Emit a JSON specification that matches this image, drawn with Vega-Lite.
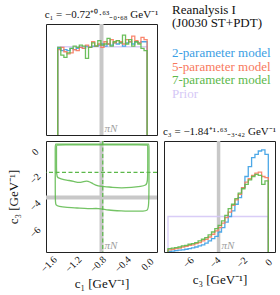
{
"$schema":"https://vega.github.io/schema/vega-lite/v6.json",
"background":"white",
"padding":{"left":6,"top":4,"right":2,"bottom":2},
"columns":2,
"spacing":{"row":6,"column":7},
"bounds":"flush",
"datasets":{
"c1h":[
{"i":-1,"lo":-1.45,"hi":-1.45,"m2":0,"m5":0,"m7":0,"pr":0},
{"i":0,"lo":-1.45,"hi":-1.40,"m2":0.78,"m5":0.77,"m7":0.79,"pr":0.795},
{"i":1,"lo":-1.40,"hi":-1.35,"m2":0.76,"m5":0.79,"m7":0.72,"pr":0.795},
{"i":2,"lo":-1.35,"hi":-1.30,"m2":0.77,"m5":0.75,"m7":0.70,"pr":0.795},
{"i":3,"lo":-1.30,"hi":-1.25,"m2":0.76,"m5":0.73,"m7":0.74,"pr":0.795},
{"i":4,"lo":-1.25,"hi":-1.20,"m2":0.78,"m5":0.74,"m7":0.78,"pr":0.795},
{"i":5,"lo":-1.20,"hi":-1.15,"m2":0.77,"m5":0.77,"m7":0.80,"pr":0.795},
{"i":6,"lo":-1.15,"hi":-1.10,"m2":0.78,"m5":0.76,"m7":0.79,"pr":0.795},
{"i":7,"lo":-1.10,"hi":-1.05,"m2":0.79,"m5":0.79,"m7":0.81,"pr":0.795},
{"i":8,"lo":-1.05,"hi":-1.00,"m2":0.78,"m5":0.78,"m7":0.80,"pr":0.795},
{"i":9,"lo":-1.00,"hi":-0.95,"m2":0.80,"m5":0.81,"m7":0.69,"pr":0.795},
{"i":10,"lo":-0.95,"hi":-0.90,"m2":0.79,"m5":0.79,"m7":0.79,"pr":0.795},
{"i":11,"lo":-0.90,"hi":-0.85,"m2":0.80,"m5":0.84,"m7":0.83,"pr":0.795},
{"i":12,"lo":-0.85,"hi":-0.80,"m2":0.80,"m5":0.80,"m7":0.80,"pr":0.795},
{"i":13,"lo":-0.80,"hi":-0.75,"m2":0.81,"m5":0.82,"m7":0.85,"pr":0.795},
{"i":14,"lo":-0.75,"hi":-0.70,"m2":0.82,"m5":0.79,"m7":0.81,"pr":0.795},
{"i":15,"lo":-0.70,"hi":-0.65,"m2":0.80,"m5":0.84,"m7":0.82,"pr":0.795},
{"i":16,"lo":-0.65,"hi":-0.60,"m2":0.82,"m5":0.82,"m7":0.87,"pr":0.795},
{"i":17,"lo":-0.60,"hi":-0.55,"m2":0.81,"m5":0.86,"m7":0.80,"pr":0.795},
{"i":18,"lo":-0.55,"hi":-0.50,"m2":0.83,"m5":0.83,"m7":0.84,"pr":0.795},
{"i":19,"lo":-0.50,"hi":-0.45,"m2":0.82,"m5":0.85,"m7":0.85,"pr":0.795},
{"i":20,"lo":-0.45,"hi":-0.40,"m2":0.83,"m5":0.84,"m7":0.83,"pr":0.795},
{"i":21,"lo":-0.40,"hi":-0.35,"m2":0.80,"m5":0.82,"m7":0.90,"pr":0.795},
{"i":22,"lo":-0.35,"hi":-0.30,"m2":0.83,"m5":0.86,"m7":0.82,"pr":0.795},
{"i":23,"lo":-0.30,"hi":-0.25,"m2":0.84,"m5":0.84,"m7":0.86,"pr":0.795},
{"i":24,"lo":-0.25,"hi":-0.20,"m2":0.82,"m5":0.89,"m7":0.80,"pr":0.795},
{"i":25,"lo":-0.20,"hi":-0.15,"m2":0.84,"m5":0.85,"m7":0.84,"pr":0.795},
{"i":26,"lo":-0.15,"hi":-0.10,"m2":0.83,"m5":0.83,"m7":0.82,"pr":0.795},
{"i":27,"lo":-0.10,"hi":-0.05,"m2":0.84,"m5":0.88,"m7":0.78,"pr":0.795},
{"i":28,"lo":-0.05,"hi":0.00,"m2":0.84,"m5":0.86,"m7":0.76,"pr":0.795},
{"i":29,"lo":0,"hi":0,"m2":0,"m5":0,"m7":0,"pr":0}
],
"c3h":[
{"i":-1,"lo":-7.5,"hi":-7.5,"m2":0,"m5":0,"m7":0,"pr":0},
{"i":0,"lo":-7.5,"hi":-7.25,"m2":0.005,"m5":0.02,"m7":0.03,"pr":0.32},
{"i":1,"lo":-7.25,"hi":-7.0,"m2":0.008,"m5":0.025,"m7":0.035,"pr":0.32},
{"i":2,"lo":-7.0,"hi":-6.75,"m2":0.012,"m5":0.03,"m7":0.04,"pr":0.32},
{"i":3,"lo":-6.75,"hi":-6.5,"m2":0.016,"m5":0.035,"m7":0.045,"pr":0.32},
{"i":4,"lo":-6.5,"hi":-6.25,"m2":0.02,"m5":0.045,"m7":0.055,"pr":0.32},
{"i":5,"lo":-6.25,"hi":-6.0,"m2":0.025,"m5":0.05,"m7":0.06,"pr":0.32},
{"i":6,"lo":-6.0,"hi":-5.75,"m2":0.03,"m5":0.06,"m7":0.07,"pr":0.32},
{"i":7,"lo":-5.75,"hi":-5.5,"m2":0.038,"m5":0.065,"m7":0.075,"pr":0.32},
{"i":8,"lo":-5.5,"hi":-5.25,"m2":0.045,"m5":0.075,"m7":0.085,"pr":0.32},
{"i":9,"lo":-5.25,"hi":-5.0,"m2":0.055,"m5":0.085,"m7":0.10,"pr":0.32},
{"i":10,"lo":-5.0,"hi":-4.75,"m2":0.065,"m5":0.10,"m7":0.115,"pr":0.32},
{"i":11,"lo":-4.75,"hi":-4.5,"m2":0.08,"m5":0.115,"m7":0.13,"pr":0.32},
{"i":12,"lo":-4.5,"hi":-4.25,"m2":0.10,"m5":0.135,"m7":0.155,"pr":0.32},
{"i":13,"lo":-4.25,"hi":-4.0,"m2":0.12,"m5":0.16,"m7":0.18,"pr":0.32},
{"i":14,"lo":-4.0,"hi":-3.75,"m2":0.14,"m5":0.19,"m7":0.21,"pr":0.32},
{"i":15,"lo":-3.75,"hi":-3.5,"m2":0.18,"m5":0.22,"m7":0.24,"pr":0.32},
{"i":16,"lo":-3.5,"hi":-3.25,"m2":0.22,"m5":0.26,"m7":0.28,"pr":0.32},
{"i":17,"lo":-3.25,"hi":-3.0,"m2":0.27,"m5":0.31,"m7":0.33,"pr":0.32},
{"i":18,"lo":-3.0,"hi":-2.75,"m2":0.32,"m5":0.36,"m7":0.39,"pr":0.32},
{"i":19,"lo":-2.75,"hi":-2.5,"m2":0.37,"m5":0.42,"m7":0.43,"pr":0.32},
{"i":20,"lo":-2.5,"hi":-2.25,"m2":0.43,"m5":0.47,"m7":0.48,"pr":0.32},
{"i":21,"lo":-2.25,"hi":-2.0,"m2":0.49,"m5":0.52,"m7":0.53,"pr":0.32},
{"i":22,"lo":-2.0,"hi":-1.75,"m2":0.58,"m5":0.58,"m7":0.57,"pr":0.32},
{"i":23,"lo":-1.75,"hi":-1.5,"m2":0.68,"m5":0.63,"m7":0.61,"pr":0.32},
{"i":24,"lo":-1.5,"hi":-1.25,"m2":0.77,"m5":0.66,"m7":0.65,"pr":0.32},
{"i":25,"lo":-1.25,"hi":-1.0,"m2":0.85,"m5":0.69,"m7":0.68,"pr":0.32},
{"i":26,"lo":-1.0,"hi":-0.75,"m2":0.88,"m5":0.71,"m7":0.70,"pr":0.32},
{"i":27,"lo":-0.75,"hi":-0.5,"m2":0.91,"m5":0.72,"m7":0.69,"pr":0.32},
{"i":28,"lo":-0.5,"hi":-0.25,"m2":0.92,"m5":0.68,"m7":0.61,"pr":0.32},
{"i":29,"lo":-0.25,"hi":0,"m2":0.88,"m5":0.67,"m7":0.64,"pr":0.32},
{"i":30,"lo":0,"hi":0,"m2":0,"m5":0,"m7":0,"pr":0}
],
"cont":[
{"lv":"a","k":0,"c1":-1.47,"c3":0.21},
{"lv":"a","k":1,"c1":-1.42,"c3":0.21},
{"lv":"a","k":2,"c1":-0.80,"c3":0.21},
{"lv":"a","k":3,"c1":-0.03,"c3":0.21},
{"lv":"a","k":4,"c1":0.01,"c3":0.21},
{"lv":"a","k":5,"c1":0.01,"c3":0.15},
{"lv":"a","k":6,"c1":0.01,"c3":-1.2},
{"lv":"a","k":7,"c1":0.01,"c3":-2.6},
{"lv":"a","k":8,"c1":-0.02,"c3":-2.82},
{"lv":"a","k":9,"c1":-0.095,"c3":-2.89},
{"lv":"a","k":10,"c1":-0.25,"c3":-2.98},
{"lv":"a","k":11,"c1":-0.42,"c3":-3.02},
{"lv":"a","k":12,"c1":-0.56,"c3":-2.98},
{"lv":"a","k":13,"c1":-0.697,"c3":-2.89},
{"lv":"a","k":14,"c1":-0.795,"c3":-2.89},
{"lv":"a","k":15,"c1":-0.88,"c3":-2.70},
{"lv":"a","k":16,"c1":-0.957,"c3":-2.47},
{"lv":"a","k":17,"c1":-1.03,"c3":-2.52},
{"lv":"a","k":18,"c1":-1.103,"c3":-2.64},
{"lv":"a","k":19,"c1":-1.185,"c3":-2.51},
{"lv":"a","k":20,"c1":-1.315,"c3":-2.42},
{"lv":"a","k":21,"c1":-1.40,"c3":-2.32},
{"lv":"a","k":22,"c1":-1.45,"c3":-2.25},
{"lv":"a","k":23,"c1":-1.47,"c3":-2.1},
{"lv":"a","k":24,"c1":-1.47,"c3":-1.0},
{"lv":"a","k":25,"c1":-1.47,"c3":0.15},
{"lv":"b","k":0,"c1":-1.49,"c3":0.27},
{"lv":"b","k":1,"c1":-1.44,"c3":0.27},
{"lv":"b","k":2,"c1":-0.80,"c3":0.27},
{"lv":"b","k":3,"c1":-0.02,"c3":0.27},
{"lv":"b","k":4,"c1":0.03,"c3":0.27},
{"lv":"b","k":5,"c1":0.03,"c3":0.2},
{"lv":"b","k":6,"c1":0.03,"c3":-2.0},
{"lv":"b","k":7,"c1":0.03,"c3":-4.5},
{"lv":"b","k":8,"c1":0.0,"c3":-4.7},
{"lv":"b","k":9,"c1":-0.05,"c3":-4.74},
{"lv":"b","k":10,"c1":-0.21,"c3":-4.76},
{"lv":"b","k":11,"c1":-0.42,"c3":-4.72},
{"lv":"b","k":12,"c1":-0.63,"c3":-4.68},
{"lv":"b","k":13,"c1":-0.795,"c3":-4.51},
{"lv":"b","k":14,"c1":-0.957,"c3":-4.59},
{"lv":"b","k":15,"c1":-1.14,"c3":-4.50},
{"lv":"b","k":16,"c1":-1.30,"c3":-4.47},
{"lv":"b","k":17,"c1":-1.44,"c3":-4.40},
{"lv":"b","k":18,"c1":-1.48,"c3":-4.3},
{"lv":"b","k":19,"c1":-1.49,"c3":-4.1},
{"lv":"b","k":20,"c1":-1.49,"c3":-2.0},
{"lv":"b","k":21,"c1":-1.49,"c3":0.2}
]
},
"concat":[
{
"width":111,"height":111,
"title":{"text":"c₁ = −0.72⁺⁰·⁶³₋₀.₆₈ GeV⁻¹","baseline":"alphabetic","offset":-7,"frame":"group","fontSize":11},
"resolve":{"axis":{"x":"independent"}},
"layer":[
{"data":{"values":[{"c1":-0.74}]},
"mark":{"type":"rule","color":"#c8c8c8","strokeWidth":4},
"encoding":{"x":{"field":"c1","type":"quantitative","scale":{"domain":[-1.64,0.16],"nice":false,"zero":false},
"axis":{"orient":"bottom","values":[-1.6,-1.5,-1.4,-1.3,-1.2,-1.1,-1,-0.9,-0.8,-0.7,-0.6,-0.5,-0.4,-0.3,-0.2,-0.1,0,0.1],"labels":false,"title":null,"tickSize":0,
"encode":{"ticks":{"update":{"y2":{"signal":"abs(datum.value*2.5-round(datum.value*2.5))<0.01 ? -4 : -2"}}}}}}}},
{"data":{"name":"c1h"},
"transform":[{"fold":["pr","m2","m5","m7"],"as":["s","v"]},{"fold":["lo","hi"],"as":["edge","x"]}],
"mark":{"type":"line","strokeWidth":1.3,"opacity":0.9},
"encoding":{
"x":{"field":"x","type":"quantitative","scale":{"domain":[-1.64,0.16],"nice":false,"zero":false},
"axis":{"orient":"top","values":[-1.6,-1.5,-1.4,-1.3,-1.2,-1.1,-1,-0.9,-0.8,-0.7,-0.6,-0.5,-0.4,-0.3,-0.2,-0.1,0,0.1],"labels":false,"title":null,"tickSize":0,
"encode":{"ticks":{"update":{"y2":{"signal":"abs(datum.value*2.5-round(datum.value*2.5))<0.01 ? 4 : 2"}}}}}},
"y":{"field":"v","type":"quantitative","scale":{"domain":[0,1],"nice":false},"axis":null},
"color":{"field":"s","type":"nominal","scale":{"domain":["m2","m5","m7","pr"],"range":["#3a9ee4","#f8795d","#5cb84a","#d5c8f6"]},"legend":null},
"order":[{"field":"i","type":"quantitative"},{"field":"edge","type":"nominal","sort":"descending"}]}},
{"data":{"values":[{"label":"πN","c1":-0.74}]},
"mark":{"type":"text","align":"left","baseline":"bottom","dx":3,"dy":-1,"fontSize":11,"fontStyle":"italic","color":"#a0a0a0"},
"encoding":{"x":{"field":"c1","type":"quantitative","scale":{"domain":[-1.64,0.16],"nice":false,"zero":false},"axis":null},
"y":{"datum":0,"type":"quantitative","scale":{"domain":[0,1],"nice":false},"axis":null},
"text":{"field":"label"}}}
]
},
{
"width":111,"height":111,
"view":{"stroke":null},
"title":{"text":["Reanalysis I","(J0030 ST+PDT)"],"anchor":"start","dx":8,"baseline":"alphabetic","offset":-16.5,"lineHeight":13.3,"fontSize":13,"frame":"group"},
"data":{"values":[{"s":"m2","label":"2-parameter model"},{"s":"m5","label":"5-parameter model"},{"s":"m7","label":"7-parameter model"},{"s":"pr","label":"Prior"}]},
"mark":{"type":"text","align":"left","baseline":"alphabetic","dx":8,"fontSize":13},
"encoding":{
"x":{"datum":0,"type":"quantitative","scale":{"domain":[0,1]},"axis":null},
"y":{"field":"s","type":"nominal","scale":{"type":"point","range":[33,73.5],"padding":0},"axis":null},
"color":{"field":"s","type":"nominal","scale":{"domain":["m2","m5","m7","pr"],"range":["#3a9ee4","#f8795d","#5cb84a","#d5c8f6"]},"legend":null},
"text":{"field":"label"}}
},
{
"width":111,"height":111,
"resolve":{"axis":{"x":"independent","y":"independent"}},
"layer":[
{"data":{"values":[{"c1":-0.74}]},
"mark":{"type":"rule","color":"#c8c8c8","strokeWidth":4},
"encoding":{"x":{"field":"c1","type":"quantitative","scale":{"domain":[-1.64,0.16],"nice":false,"zero":false},
"axis":{"orient":"bottom","values":[-1.6,-1.5,-1.4,-1.3,-1.2,-1.1,-1,-0.9,-0.8,-0.7,-0.6,-0.5,-0.4,-0.3,-0.2,-0.1,0,0.1],
"labelExpr":"abs(datum.value*2.5-round(datum.value*2.5))<0.01 ? format(datum.value,'.1f') : ''",
"labelAngle":-45,"labelAlign":"center","labelBaseline":"middle","labelPadding":12,"tickSize":0,
"title":"c₁ [GeV⁻¹]","titlePadding":4,
"encode":{"ticks":{"update":{"y2":{"signal":"abs(datum.value*2.5-round(datum.value*2.5))<0.01 ? -4 : -2"}}}}}}}},
{"data":{"values":[{"c3":-3.72}]},
"mark":{"type":"rule","color":"#c8c8c8","strokeWidth":4},
"encoding":{"y":{"field":"c3","type":"quantitative","scale":{"domain":[-7.8,0.5],"nice":false,"zero":false},
"axis":{"orient":"left","values":[-7.5,-7,-6.5,-6,-5.5,-5,-4.5,-4,-3.5,-3,-2.5,-2,-1.5,-1,-0.5,0,0.5],
"labelExpr":"abs(datum.value/2-round(datum.value/2))<0.01 ? format(datum.value,'.0f') : ''",
"labelAngle":-45,"labelAlign":"center","labelBaseline":"middle","labelPadding":11,"labelOffset":4,"tickSize":0,
"title":"c₃ [GeV⁻¹]","titlePadding":7.5,
"encode":{"ticks":{"update":{"x2":{"signal":"abs(datum.value/2-round(datum.value/2))<0.01 ? 4 : 2"}}}}}}}},
{"data":{"name":"cont"},
"mark":{"type":"line","interpolate":"basis-closed","strokeWidth":1.3,"opacity":0.85},
"encoding":{
"x":{"field":"c1","type":"quantitative","scale":{"domain":[-1.64,0.16],"nice":false,"zero":false},
"axis":{"orient":"top","values":[-1.6,-1.5,-1.4,-1.3,-1.2,-1.1,-1,-0.9,-0.8,-0.7,-0.6,-0.5,-0.4,-0.3,-0.2,-0.1,0,0.1],"labels":false,"title":null,"tickSize":0,
"encode":{"ticks":{"update":{"y2":{"signal":"abs(datum.value*2.5-round(datum.value*2.5))<0.01 ? 4 : 2"}}}}}},
"y":{"field":"c3","type":"quantitative","scale":{"domain":[-7.8,0.5],"nice":false,"zero":false},
"axis":{"orient":"right","values":[-7.5,-7,-6.5,-6,-5.5,-5,-4.5,-4,-3.5,-3,-2.5,-2,-1.5,-1,-0.5,0,0.5],"labels":false,"title":null,"tickSize":0,
"encode":{"ticks":{"update":{"x2":{"signal":"abs(datum.value/2-round(datum.value/2))<0.01 ? -4 : -2"}}}}}},
"detail":{"field":"lv"},
"order":{"field":"k","type":"quantitative"},
"color":{"datum":"m7","type":"nominal","scale":{"domain":["m2","m5","m7","pr"],"range":["#3a9ee4","#f8795d","#5cb84a","#d5c8f6"]},"legend":null}}},
{"data":{"values":[{"c1":-0.72}]},
"mark":{"type":"rule","strokeWidth":1.2,"strokeDash":[4,2.5]},
"encoding":{"x":{"field":"c1","type":"quantitative","scale":{"domain":[-1.64,0.16],"nice":false,"zero":false},"axis":null},
"color":{"datum":"m7","type":"nominal","scale":{"domain":["m2","m5","m7","pr"],"range":["#3a9ee4","#f8795d","#5cb84a","#d5c8f6"]},"legend":null}}},
{"data":{"values":[{"c3":-1.84}]},
"mark":{"type":"rule","strokeWidth":1.2,"strokeDash":[4,2.5]},
"encoding":{"y":{"field":"c3","type":"quantitative","scale":{"domain":[-7.8,0.5],"nice":false,"zero":false},"axis":null},
"color":{"datum":"m7","type":"nominal","scale":{"domain":["m2","m5","m7","pr"],"range":["#3a9ee4","#f8795d","#5cb84a","#d5c8f6"]},"legend":null}}},
{"data":{"values":[{"label":"πN","c1":-0.74}]},
"mark":{"type":"text","align":"left","baseline":"bottom","dx":3,"dy":-1,"fontSize":11,"fontStyle":"italic","color":"#a0a0a0"},
"encoding":{"x":{"field":"c1","type":"quantitative","scale":{"domain":[-1.64,0.16],"nice":false,"zero":false},"axis":null},
"y":{"datum":-7.8,"type":"quantitative","scale":{"domain":[-7.8,0.5],"nice":false,"zero":false},"axis":null},
"text":{"field":"label"}}}
]
},
{
"width":111,"height":111,
"title":{"text":"c₃ = −1.84⁺¹·⁶³₋₃.₄₂ GeV⁻¹","baseline":"alphabetic","offset":-7,"frame":"group","fontSize":11},
"resolve":{"axis":{"x":"independent"}},
"layer":[
{"data":{"values":[{"c3":-3.72}]},
"mark":{"type":"rule","color":"#c8c8c8","strokeWidth":3.5},
"encoding":{"x":{"field":"c3","type":"quantitative","scale":{"domain":[-7.8,0.5],"nice":false,"zero":false},
"axis":{"orient":"bottom","values":[-7.5,-7,-6.5,-6,-5.5,-5,-4.5,-4,-3.5,-3,-2.5,-2,-1.5,-1,-0.5,0,0.5],
"labelExpr":"abs(datum.value/2-round(datum.value/2))<0.01 ? format(datum.value,'.0f') : ''",
"labelAngle":-45,"labelAlign":"center","labelBaseline":"middle","labelPadding":10,"tickSize":0,
"title":"c₃ [GeV⁻¹]","titlePadding":4,
"encode":{"ticks":{"update":{"y2":{"signal":"abs(datum.value/2-round(datum.value/2))<0.01 ? -4 : -2"}}}}}}}},
{"data":{"name":"c3h"},
"transform":[{"fold":["pr","m2","m5","m7"],"as":["s","v"]},{"fold":["lo","hi"],"as":["edge","x"]}],
"mark":{"type":"line","strokeWidth":1.3,"opacity":0.9},
"encoding":{
"x":{"field":"x","type":"quantitative","scale":{"domain":[-7.8,0.5],"nice":false,"zero":false},
"axis":{"orient":"top","values":[-7.5,-7,-6.5,-6,-5.5,-5,-4.5,-4,-3.5,-3,-2.5,-2,-1.5,-1,-0.5,0,0.5],"labels":false,"title":null,"tickSize":0,
"encode":{"ticks":{"update":{"y2":{"signal":"abs(datum.value/2-round(datum.value/2))<0.01 ? 4 : 2"}}}}}},
"y":{"field":"v","type":"quantitative","scale":{"domain":[0,1],"nice":false},"axis":null},
"color":{"field":"s","type":"nominal","scale":{"domain":["m2","m5","m7","pr"],"range":["#3a9ee4","#f8795d","#5cb84a","#d5c8f6"]},"legend":null},
"order":[{"field":"i","type":"quantitative"},{"field":"edge","type":"nominal","sort":"descending"}]}},
{"data":{"values":[{"label":"πN","c3":-3.72}]},
"mark":{"type":"text","align":"left","baseline":"bottom","dx":3,"dy":-1,"fontSize":11,"fontStyle":"italic","color":"#a0a0a0"},
"encoding":{"x":{"field":"c3","type":"quantitative","scale":{"domain":[-7.8,0.5],"nice":false,"zero":false},"axis":null},
"y":{"datum":0,"type":"quantitative","scale":{"domain":[0,1],"nice":false},"axis":null},
"text":{"field":"label"}}}
]
}
],
"config":{
"font":"Liberation Serif",
"view":{"stroke":"#222","strokeWidth":1},
"legend":{"disable":true},
"axis":{"grid":false,"domain":false,"tickColor":"#222","tickWidth":0.8,"labelFont":"Liberation Serif","labelFontSize":10,"labelColor":"#111","titleFont":"Liberation Serif","titleFontSize":13,"titleFontWeight":"normal","titleColor":"#111","labelOverlap":false,"labelFlush":false},
"title":{"font":"Liberation Serif","fontSize":11.5,"fontWeight":"normal","color":"#111"},
"text":{"font":"Liberation Serif"}
}
}
